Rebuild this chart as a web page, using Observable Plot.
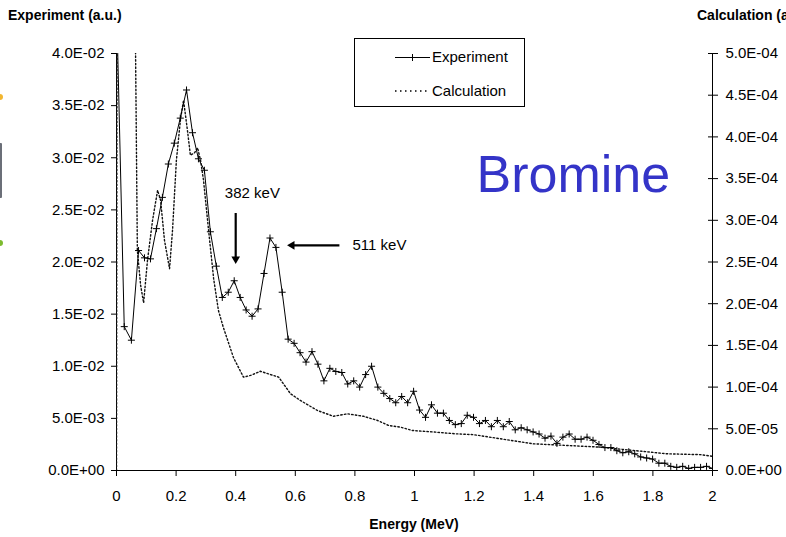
<!DOCTYPE html>
<html><head><meta charset="utf-8">
<script src="https://cdn.jsdelivr.net/npm/d3@7"></script>
<script src="https://cdn.jsdelivr.net/npm/@observablehq/plot@0.6"></script>
<style>
body{margin:0;background:#fff;}
#chart{position:relative;width:786px;height:537px;overflow:hidden;background:#fff;}
</style></head><body><div id="chart"></div>
<script>
// Experiment spectrum (a.u., left axis)
const expX = [0, 0.026, 0.05,
0.074,0.094,0.114,0.134,0.154,0.174,0.194,0.214,0.235,0.255,
0.275,0.295,0.315,0.335,0.355,0.375,0.395,0.415,0.435,0.455,
0.475,0.495,0.515,0.535,0.556,0.576,0.596,0.616,0.636,0.656,
0.676,0.696,0.716,0.736,0.756,0.776,0.796,0.816,0.836,0.856,
0.877,0.897,0.917,0.937,0.957,0.977,0.997,1.017,1.037,1.057,
1.077,1.097,1.117,1.137,1.157,1.177,1.198,1.218,1.238,1.258,
1.278,1.298,1.318,1.338,1.358,1.378,1.398,1.418,1.438,1.458,
1.478,1.498,1.519,1.539,1.559,1.579,1.599,1.619,1.639,1.659,
1.679,1.699,1.719,1.739,1.759,1.779,1.799,1.820,1.840,1.860,
1.880,1.900,1.920,1.940,1.960,1.980,2.000];
const expY = [0.045, 0.0138, 0.0125,
0.0211,0.0204,0.0203,0.0232,0.0262,0.0294,0.0314,0.0338,0.0365,0.0324,
0.0299,0.0288,0.0229,0.0196,0.0166,0.0171,0.0182,0.0166,0.0154,0.0148,
0.0155,0.0189,0.0223,0.0214,0.0171,0.0126,0.0122,0.0113,0.0104,0.0114,
0.0102,0.0086,0.0098,0.0095,0.0094,0.0083,0.0086,0.0080,0.0092,0.0100,
0.0080,0.0074,0.0069,0.0065,0.0071,0.0065,0.0076,0.0058,0.0051,0.0063,
0.0055,0.0055,0.0048,0.0044,0.0045,0.0053,0.0051,0.0045,0.0048,0.0042,
0.0048,0.0042,0.0047,0.0039,0.0041,0.0039,0.0037,0.0035,0.0031,0.0033,
0.0026,0.0032,0.0035,0.0030,0.0030,0.0032,0.0029,0.0025,0.0022,0.0022,
0.0019,0.0017,0.0018,0.0016,0.0013,0.0012,0.0011,0.0007,0.0007,0.0004,
0.0003,0.0004,0.0002,0.0003,0.0003,0.0004,0.0002];

// Calculation (a.u., right axis)
const calcX = [0,0.004,0.03,0.064,0.070,0.081,0.091,0.104,0.121,0.138,0.148,0.161,0.178,0.188,
0.201,0.215,0.225,0.238,0.248,0.262,0.272,0.282,0.292,0.309,0.326,0.342,0.359,0.393,0.426,
0.450,0.483,0.517,0.544,0.584,0.617,0.674,0.728,0.775,0.829,0.876,0.913,0.953,0.993,1.07,
1.138,1.198,1.289,1.399,1.513,1.624,1.735,1.849,1.96,2.0];
const calcY = [0,12e-4,9e-4,5.0e-4,2.64e-4,2.22e-4,2.01e-4,2.52e-4,3.0e-4,3.36e-4,3.24e-4,2.76e-4,2.42e-4,2.88e-4,
3.72e-4,4.22e-4,4.44e-4,4.08e-4,3.78e-4,3.81e-4,3.87e-4,3.72e-4,3.48e-4,2.88e-4,2.30e-4,1.92e-4,1.71e-4,1.35e-4,1.12e-4,
1.14e-4,1.19e-4,1.15e-4,1.12e-4,0.92e-4,0.84e-4,0.72e-4,0.65e-4,0.68e-4,0.65e-4,0.60e-4,0.54e-4,0.52e-4,0.48e-4,0.46e-4,
0.44e-4,0.43e-4,0.38e-4,0.32e-4,0.30e-4,0.28e-4,0.24e-4,0.20e-4,0.19e-4,0.17e-4];

const xTicks = [0,0.2,0.4,0.6,0.8,1,1.2,1.4,1.6,1.8,2];
const leftTicks = [0,0.005,0.01,0.015,0.02,0.025,0.03,0.035,0.04];
const rightTicks = [0,5e-5,1e-4,1.5e-4,2e-4,2.5e-4,3e-4,3.5e-4,4e-4,4.5e-4,5e-4];

const leftMax = 0.04, rightMax = 5e-4;
const ratio = leftMax / rightMax;

// annotations (data units)
const peakLabels = [{x:0.456, y:0.0266, text:"382 keV", anchor:"middle"},
                    {x:0.792, y:0.0216, text:"511 keV", anchor:"start"}];
const arrowShafts = [{x1:0.4, y1:0.0247, x2:0.4, y2:0.0204},
                     {x1:0.748, y1:0.0216, x2:0.588, y2:0.0216}];
const arrowHeads = [{x:0.4, y:0.02029, rotate:180},
                    {x:0.589, y:0.0216, rotate:-90}];
const elementLabel = [{x:1.208, y:0.0283, text:"Bromine"}];

function sci(v){
  const [m,e] = (+v).toExponential(1).split("e");
  const n = +e;
  return m + "E" + (n < 0 ? "-" : "+") + String(Math.abs(n)).padStart(2,"0");
}

const expData = expX.map((x,i)=>({x, y:expY[i]}));
const calcData = calcX.map((x,i)=>({x, y:calcY[i]*ratio}));

const plot = Plot.plot({
  width:786, height:537,
  marginLeft:116, marginRight:74, marginTop:53, marginBottom:67,
  style:{fontFamily:"'Liberation Sans', Arial, sans-serif", fontSize:"15px", color:"#000", background:"#fff"},
  x:{domain:[0,2]},
  y:{domain:[0,leftMax]},
  marks:[
    Plot.axisX({ticks:xTicks, tickSize:6, tickPadding:14, tickFormat:d=>String(d), label:null}),
    Plot.axisY({ticks:leftTicks, anchor:"left", tickSize:5, tickPadding:7, tickFormat:sci, label:null}),
    Plot.axisY({ticks:rightTicks.map(v=>v*ratio), anchor:"right", tickSize:5, tickPadding:8, tickFormat:d=>sci(d/ratio), label:null}),
    Plot.axisY({ticks:rightTicks.map(v=>v*ratio), anchor:"right", tickSize:5, dx:-5, tickFormat:()=>"", label:null}),
    Plot.ruleX([0,2], {stroke:"#000"}),
    Plot.ruleY([0], {stroke:"#000"}),
    Plot.line(calcData, {x:"x", y:"y", stroke:"#111", strokeWidth:1.4, strokeDasharray:"1.5,2.2", clip:true}),
    Plot.line(expData, {x:"x", y:"y", stroke:"#000", strokeWidth:1, clip:true}),
    Plot.dot(expData, {x:"x", y:"y", symbol:"plus", r:2.4, stroke:"#000", strokeWidth:1, clip:true}),
    Plot.link(arrowShafts, {x1:"x1", y1:"y1", x2:"x2", y2:"y2", stroke:"#000", strokeWidth:2.2}),
    Plot.dot(arrowHeads, {x:"x", y:"y", symbol:"triangle", r:3.2, fill:"#000", stroke:"none", rotate:"rotate"}),
    Plot.text(peakLabels.filter(d=>d.anchor==="middle"), {x:"x", y:"y", text:"text", textAnchor:"middle", fontSize:15, fill:"#000"}),
    Plot.text(peakLabels.filter(d=>d.anchor==="start"), {x:"x", y:"y", text:"text", textAnchor:"start", fontSize:15, fill:"#000"}),
    Plot.text(elementLabel, {x:"x", y:"y", text:"text", textAnchor:"start", fontSize:52, fill:"#3434c8"})
  ]
});
document.getElementById("chart").appendChild(plot);

const svg = d3.select(plot);
const font = "'Liberation Sans', Arial, sans-serif";
function addText(sel, x, y, t, opts = {}) {
  return sel.append("text").attr("x",x).attr("y",y)
    .attr("text-anchor", opts.anchor || "start")
    .attr("font-family",font).attr("font-size",opts.size || 15)
    .attr("font-weight",opts.weight || "normal").attr("fill","#000").text(t);
}
// axis titles
addText(svg, 8, 20, "Experiment (a.u.)", {size:14, weight:"bold"});
addText(svg, 697, 20, "Calculation (a.u.)", {size:14, weight:"bold"});
addText(svg, 414, 529, "Energy (MeV)", {size:14, weight:"bold", anchor:"middle"});

// legend
const lg = svg.append("g");
lg.append("rect").attr("x",354.5).attr("y",38.5).attr("width",170).attr("height",68).attr("fill","#fff").attr("stroke","#000");
lg.append("line").attr("x1",395).attr("x2",430).attr("y1",57.5).attr("y2",57.5).attr("stroke","#000");
lg.append("path").attr("d","M409,57.5H416M412.5,54V61").attr("stroke","#000").attr("fill","none");
addText(lg, 432, 62, "Experiment");
lg.append("line").attr("x1",395).attr("x2",430).attr("y1",91).attr("y2",91).attr("stroke","#000").attr("stroke-width",1.5).attr("stroke-dasharray","1.5,3.5");
addText(lg, 432, 96, "Calculation");

// slide edge decorations
svg.append("circle").attr("cx",0).attr("cy",97).attr("r",3).attr("fill","#f2b630");
svg.append("rect").attr("x",-2).attr("y",143).attr("width",4).attr("height",55).attr("rx",1).attr("fill","#6b6f78");
svg.append("circle").attr("cx",0).attr("cy",243).attr("r",3).attr("fill","#7dbb2e");
</script></body></html>
